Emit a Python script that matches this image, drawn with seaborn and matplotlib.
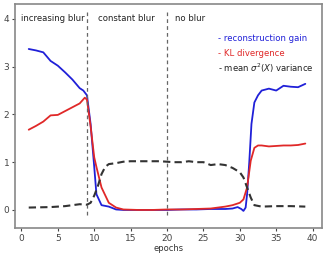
import numpy as np
import pandas as pd
import matplotlib
matplotlib.use('Agg')
import matplotlib.pyplot as plt
import seaborn as sns

# values
epochs_recon = [1, 2, 3, 4, 5, 6, 7, 8, 8.5, 9, 9.5, 10, 10.3, 11, 12, 13, 14, 16, 18, 20, 22, 24, 26, 28,
                29, 29.7, 30.2, 30.5, 30.8, 31, 31.3, 31.6, 32, 32.5, 33, 34, 35, 36, 37, 38, 39]
recon_gain = [3.37, 3.34, 3.30, 3.12, 3.02, 2.88, 2.73, 2.55, 2.50, 2.40, 1.80, 0.90, 0.33, 0.10, 0.07, 0.01,
              0.0, 0.0, 0.0, 0.0, 0.01, 0.01, 0.02, 0.02, 0.03, 0.06, 0.02, -0.02, 0.05, 0.33, 1.0, 1.8,
              2.25, 2.40, 2.50, 2.54, 2.50, 2.60, 2.58, 2.57, 2.64]

epochs_kl = [1, 2, 3, 4, 5, 6, 7, 8, 8.7, 9, 9.5, 10, 10.3, 11, 12, 13, 14, 16, 18, 20, 22, 24, 26, 27,
             28, 29, 30, 30.5, 31, 31.5, 32, 32.5, 33, 34, 35, 36, 37, 38, 39]
kl_div = [1.68, 1.76, 1.85, 1.98, 1.99, 2.07, 2.15, 2.23, 2.35, 2.31, 1.75, 1.10, 0.90, 0.47, 0.15, 0.05,
          0.01, 0.0, 0.0, 0.01, 0.01, 0.02, 0.03, 0.05, 0.07, 0.10, 0.15, 0.22, 0.47, 1.03, 1.30, 1.35,
          1.35, 1.33, 1.34, 1.35, 1.35, 1.36, 1.39]

epochs_var = [1, 4, 6, 8, 9, 9.5, 10, 10.5, 11, 11.5, 12, 13, 14, 15, 17, 19, 20, 21, 22, 23, 24, 25, 26,
              27, 28, 29, 30, 30.5, 31, 31.5, 32, 33, 35, 37, 39]
mean_var = [0.05, 0.06, 0.08, 0.12, 0.11, 0.15, 0.30, 0.50, 0.75, 0.90, 0.96, 0.98, 1.01, 1.02, 1.02, 1.02,
            1.01, 1.0, 1.0, 1.02, 1.0, 1.0, 0.94, 0.96, 0.94, 0.88, 0.79, 0.68, 0.47, 0.26, 0.10, 0.07,
            0.08, 0.08, 0.07]

phase_names = ['increasing blur', 'constant blur', 'no blur']
phase_starts = [0, 10.5, 21.1]
phase_bounds = [9, 20]

legend_texts = ['- reconstruction gain', '- KL divergence', '- mean $\\sigma^2(X)$ variance']
legend_colors = ['#2020d8', '#e02828', '#222222']

sns.set_style('white')
plt.rcParams['font.family'] = ['DejaVu Sans']

fig = plt.figure(figsize=(3.24, 2.56), dpi=100)
ax = fig.add_axes([0.046, 0.109, 0.948, 0.875])

df_r = pd.DataFrame({'epoch': epochs_recon, 'value': recon_gain})
df_k = pd.DataFrame({'epoch': epochs_kl, 'value': kl_div})
df_v = pd.DataFrame({'epoch': epochs_var, 'value': mean_var})

sns.lineplot(data=df_r, x='epoch', y='value', color=legend_colors[0], lw=1.3, ax=ax)
sns.lineplot(data=df_k, x='epoch', y='value', color=legend_colors[1], lw=1.3, ax=ax)
sns.lineplot(data=df_v, x='epoch', y='value', color='#333333', lw=1.5, ls=(0, (3.5, 2)), ax=ax)

for b in phase_bounds:
    ax.plot([b, b], [-0.1, 4.15], color='#666666', lw=0.9, ls=(0, (3, 2.5)))

for name, xs in zip(phase_names, phase_starts):
    ax.text(xs, 4.0, name, fontsize=6.1, color='#222222', va='center', ha='left')

for i, (t, c) in enumerate(zip(legend_texts, legend_colors)):
    ax.text(27, 3.58 - 0.31 * i, t, fontsize=6.1, color=c, va='center', ha='left')

ax.set_xlim(-0.9, 41.3)
ax.set_ylim(-0.38, 4.31)
ax.set_xticks(range(0, 41, 5))
ax.set_yticks([0, 1, 2, 3, 4])
ax.set_xlabel('epochs', fontsize=6, color='#333333', labelpad=1)
ax.set_ylabel('')
ax.tick_params(labelsize=6.5, colors='#444444', length=2.5, width=0.8, pad=1.5, left=True, bottom=True)
for s in ax.spines.values():
    s.set_color('#888888')
    s.set_linewidth(1.2)

fig.savefig('out.png', dpi=100)
